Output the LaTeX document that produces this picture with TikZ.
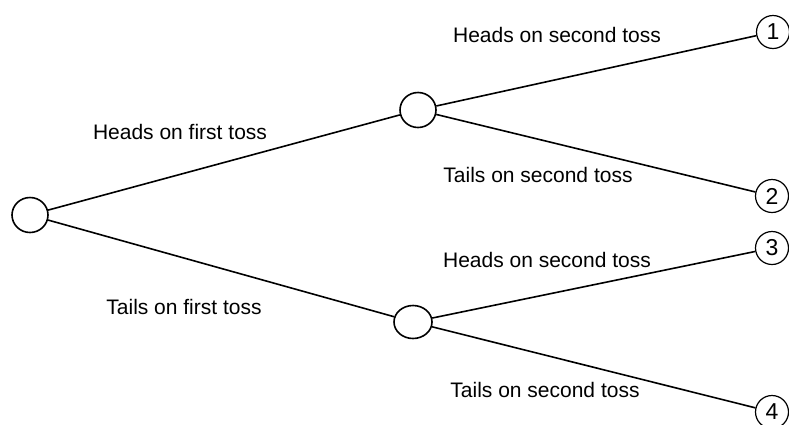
\documentclass[tikz,border=0pt]{standalone}
\usepackage{fontspec}
\setmainfont{Liberation Sans}
\usetikzlibrary{shapes.geometric}
\begin{document}
\begin{tikzpicture}[x=1pt,y=-1pt,
  state/.style={draw,ellipse,line width=1.6pt,inner sep=0pt,fill=white},
  leaf/.style={draw,circle,line width=1.2pt,inner sep=0pt,minimum size=33pt,font=\fontsize{23}{23}\selectfont,fill=white},
  branch/.style={line width=1.6pt},
  lbl/.style={font=\fontsize{21}{21}\selectfont,inner sep=0pt}]
\useasboundingbox (0,0) rectangle (789,424);
\clip (0,0) rectangle (789,424);
\node[state,minimum width=36pt,minimum height=35pt] (r) at (30,215) {};
\node[state,minimum width=36pt,minimum height=35pt] (a) at (418,110) {};
\node[state,minimum width=38pt,minimum height=33pt] (b) at (413,322) {};
\node[leaf] (l1) at (773,32) {1};
\node[leaf] (l2) at (772,196) {2};
\node[leaf] (l3) at (772,248) {3};
\node[leaf] (l4) at (772,412) {4};
\draw[branch] (r) -- (a);
\draw[branch] (r) -- (b);
\draw[branch] (a) -- (l1);
\draw[branch] (a) -- (l2);
\draw[branch] (b) -- (l3);
\draw[branch] (b) -- (l4);
\node[lbl] (t1) at (180,132) {Heads on first toss};
\node[lbl] (t2) at (184,307) {Tails on first toss};
\node[lbl] (t3) at (557,35) {Heads on second toss};
\node[lbl] (t4) at (538,175) {Tails on second toss};
\node[lbl] (t5) at (547,260) {Heads on second toss};
\node[lbl] (t6) at (545,390) {Tails on second toss};
\end{tikzpicture}
\end{document}
